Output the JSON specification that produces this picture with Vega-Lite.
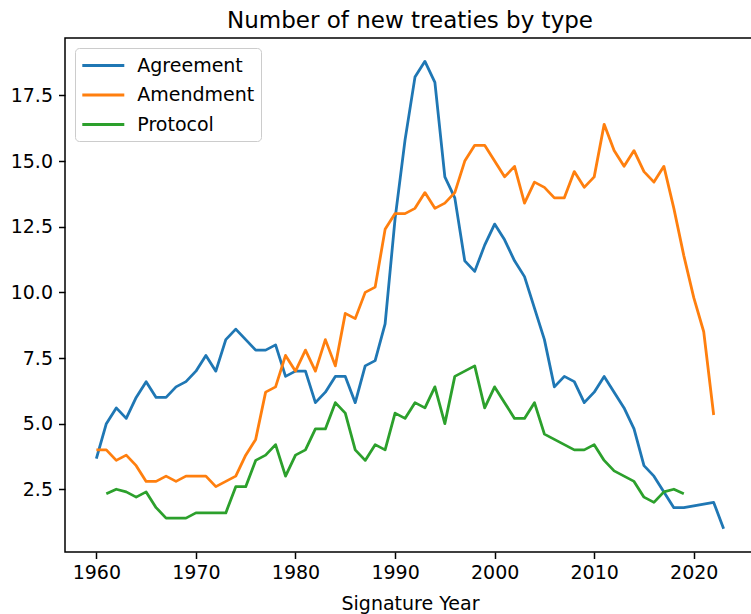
{
  "$schema": "https://vega.github.io/schema/vega-lite/v6.json",
  "autosize": {"type": "none"},
  "padding": {"left": 65, "top": 38, "right": -4, "bottom": 62},
  "width": 690,
  "height": 514,
  "background": "white",
  "title": {
    "text": "Number of new treaties by type",
    "font": "DejaVu Sans",
    "fontSize": 23,
    "fontWeight": "normal",
    "color": "black",
    "anchor": "middle",
    "baseline": "bottom",
    "offset": 6,
    "dy": 24
  },
  "config": {
    "view": {"stroke": "black", "strokeWidth": 1.5},
    "axis": {
      "labelFont": "DejaVu Sans",
      "labelFontSize": 19,
      "labelColor": "black",
      "titleFont": "DejaVu Sans",
      "titleFontSize": 19,
      "titleFontWeight": "normal",
      "titleColor": "black",
      "tickColor": "black",
      "tickWidth": 1.5,
      "tickSize": 6.5,
      "domain": false,
      "grid": false,
      "labelPadding": 5
    },
    "legend": {
      "labelFont": "DejaVu Sans",
      "labelFontSize": 19,
      "labelColor": "black"
    }
  },
  "data": {
    "values": [
      {"year": 1960, "type": "Agreement", "count": 3.67},
      {"year": 1961, "type": "Agreement", "count": 5.0},
      {"year": 1962, "type": "Agreement", "count": 5.6},
      {"year": 1963, "type": "Agreement", "count": 5.2},
      {"year": 1964, "type": "Agreement", "count": 6.0},
      {"year": 1965, "type": "Agreement", "count": 6.6},
      {"year": 1966, "type": "Agreement", "count": 6.0},
      {"year": 1967, "type": "Agreement", "count": 6.0},
      {"year": 1968, "type": "Agreement", "count": 6.4},
      {"year": 1969, "type": "Agreement", "count": 6.6},
      {"year": 1970, "type": "Agreement", "count": 7.0},
      {"year": 1971, "type": "Agreement", "count": 7.6},
      {"year": 1972, "type": "Agreement", "count": 7.0},
      {"year": 1973, "type": "Agreement", "count": 8.2},
      {"year": 1974, "type": "Agreement", "count": 8.6},
      {"year": 1975, "type": "Agreement", "count": 8.2},
      {"year": 1976, "type": "Agreement", "count": 7.8},
      {"year": 1977, "type": "Agreement", "count": 7.8},
      {"year": 1978, "type": "Agreement", "count": 8.0},
      {"year": 1979, "type": "Agreement", "count": 6.8},
      {"year": 1980, "type": "Agreement", "count": 7.0},
      {"year": 1981, "type": "Agreement", "count": 7.0},
      {"year": 1982, "type": "Agreement", "count": 5.8},
      {"year": 1983, "type": "Agreement", "count": 6.2},
      {"year": 1984, "type": "Agreement", "count": 6.8},
      {"year": 1985, "type": "Agreement", "count": 6.8},
      {"year": 1986, "type": "Agreement", "count": 5.8},
      {"year": 1987, "type": "Agreement", "count": 7.2},
      {"year": 1988, "type": "Agreement", "count": 7.4},
      {"year": 1989, "type": "Agreement", "count": 8.8},
      {"year": 1990, "type": "Agreement", "count": 12.8},
      {"year": 1991, "type": "Agreement", "count": 15.8},
      {"year": 1992, "type": "Agreement", "count": 18.2},
      {"year": 1993, "type": "Agreement", "count": 18.8},
      {"year": 1994, "type": "Agreement", "count": 18.0},
      {"year": 1995, "type": "Agreement", "count": 14.4},
      {"year": 1996, "type": "Agreement", "count": 13.6},
      {"year": 1997, "type": "Agreement", "count": 11.2},
      {"year": 1998, "type": "Agreement", "count": 10.8},
      {"year": 1999, "type": "Agreement", "count": 11.8},
      {"year": 2000, "type": "Agreement", "count": 12.6},
      {"year": 2001, "type": "Agreement", "count": 12.0},
      {"year": 2002, "type": "Agreement", "count": 11.2},
      {"year": 2003, "type": "Agreement", "count": 10.6},
      {"year": 2004, "type": "Agreement", "count": 9.4},
      {"year": 2005, "type": "Agreement", "count": 8.2},
      {"year": 2006, "type": "Agreement", "count": 6.4},
      {"year": 2007, "type": "Agreement", "count": 6.8},
      {"year": 2008, "type": "Agreement", "count": 6.6},
      {"year": 2009, "type": "Agreement", "count": 5.8},
      {"year": 2010, "type": "Agreement", "count": 6.2},
      {"year": 2011, "type": "Agreement", "count": 6.8},
      {"year": 2012, "type": "Agreement", "count": 6.2},
      {"year": 2013, "type": "Agreement", "count": 5.6},
      {"year": 2014, "type": "Agreement", "count": 4.8},
      {"year": 2015, "type": "Agreement", "count": 3.4},
      {"year": 2016, "type": "Agreement", "count": 3.0},
      {"year": 2017, "type": "Agreement", "count": 2.4},
      {"year": 2018, "type": "Agreement", "count": 1.8},
      {"year": 2019, "type": "Agreement", "count": 1.8},
      {"year": 2022, "type": "Agreement", "count": 2.0},
      {"year": 2023, "type": "Agreement", "count": 1.0},
      {"year": 1960, "type": "Amendment", "count": 4.0},
      {"year": 1961, "type": "Amendment", "count": 4.0},
      {"year": 1962, "type": "Amendment", "count": 3.6},
      {"year": 1963, "type": "Amendment", "count": 3.8},
      {"year": 1964, "type": "Amendment", "count": 3.4},
      {"year": 1965, "type": "Amendment", "count": 2.8},
      {"year": 1966, "type": "Amendment", "count": 2.8},
      {"year": 1967, "type": "Amendment", "count": 3.0},
      {"year": 1968, "type": "Amendment", "count": 2.8},
      {"year": 1969, "type": "Amendment", "count": 3.0},
      {"year": 1970, "type": "Amendment", "count": 3.0},
      {"year": 1971, "type": "Amendment", "count": 3.0},
      {"year": 1972, "type": "Amendment", "count": 2.6},
      {"year": 1973, "type": "Amendment", "count": 2.8},
      {"year": 1974, "type": "Amendment", "count": 3.0},
      {"year": 1975, "type": "Amendment", "count": 3.8},
      {"year": 1976, "type": "Amendment", "count": 4.4},
      {"year": 1977, "type": "Amendment", "count": 6.2},
      {"year": 1978, "type": "Amendment", "count": 6.4},
      {"year": 1979, "type": "Amendment", "count": 7.6},
      {"year": 1980, "type": "Amendment", "count": 7.0},
      {"year": 1981, "type": "Amendment", "count": 7.8},
      {"year": 1982, "type": "Amendment", "count": 7.0},
      {"year": 1983, "type": "Amendment", "count": 8.2},
      {"year": 1984, "type": "Amendment", "count": 7.2},
      {"year": 1985, "type": "Amendment", "count": 9.2},
      {"year": 1986, "type": "Amendment", "count": 9.0},
      {"year": 1987, "type": "Amendment", "count": 10.0},
      {"year": 1988, "type": "Amendment", "count": 10.2},
      {"year": 1989, "type": "Amendment", "count": 12.4},
      {"year": 1990, "type": "Amendment", "count": 13.0},
      {"year": 1991, "type": "Amendment", "count": 13.0},
      {"year": 1992, "type": "Amendment", "count": 13.2},
      {"year": 1993, "type": "Amendment", "count": 13.8},
      {"year": 1994, "type": "Amendment", "count": 13.2},
      {"year": 1995, "type": "Amendment", "count": 13.4},
      {"year": 1996, "type": "Amendment", "count": 13.8},
      {"year": 1997, "type": "Amendment", "count": 15.0},
      {"year": 1998, "type": "Amendment", "count": 15.6},
      {"year": 1999, "type": "Amendment", "count": 15.6},
      {"year": 2000, "type": "Amendment", "count": 15.0},
      {"year": 2001, "type": "Amendment", "count": 14.4},
      {"year": 2002, "type": "Amendment", "count": 14.8},
      {"year": 2003, "type": "Amendment", "count": 13.4},
      {"year": 2004, "type": "Amendment", "count": 14.2},
      {"year": 2005, "type": "Amendment", "count": 14.0},
      {"year": 2006, "type": "Amendment", "count": 13.6},
      {"year": 2007, "type": "Amendment", "count": 13.6},
      {"year": 2008, "type": "Amendment", "count": 14.6},
      {"year": 2009, "type": "Amendment", "count": 14.0},
      {"year": 2010, "type": "Amendment", "count": 14.4},
      {"year": 2011, "type": "Amendment", "count": 16.4},
      {"year": 2012, "type": "Amendment", "count": 15.4},
      {"year": 2013, "type": "Amendment", "count": 14.8},
      {"year": 2014, "type": "Amendment", "count": 15.4},
      {"year": 2015, "type": "Amendment", "count": 14.6},
      {"year": 2016, "type": "Amendment", "count": 14.2},
      {"year": 2017, "type": "Amendment", "count": 14.8},
      {"year": 2018, "type": "Amendment", "count": 13.2},
      {"year": 2019, "type": "Amendment", "count": 11.4},
      {"year": 2020, "type": "Amendment", "count": 9.8},
      {"year": 2021, "type": "Amendment", "count": 8.5},
      {"year": 2022, "type": "Amendment", "count": 5.33},
      {"year": 1961, "type": "Protocol", "count": 2.33},
      {"year": 1962, "type": "Protocol", "count": 2.5},
      {"year": 1963, "type": "Protocol", "count": 2.4},
      {"year": 1964, "type": "Protocol", "count": 2.2},
      {"year": 1965, "type": "Protocol", "count": 2.4},
      {"year": 1966, "type": "Protocol", "count": 1.8},
      {"year": 1967, "type": "Protocol", "count": 1.4},
      {"year": 1968, "type": "Protocol", "count": 1.4},
      {"year": 1969, "type": "Protocol", "count": 1.4},
      {"year": 1970, "type": "Protocol", "count": 1.6},
      {"year": 1971, "type": "Protocol", "count": 1.6},
      {"year": 1972, "type": "Protocol", "count": 1.6},
      {"year": 1973, "type": "Protocol", "count": 1.6},
      {"year": 1974, "type": "Protocol", "count": 2.6},
      {"year": 1975, "type": "Protocol", "count": 2.6},
      {"year": 1976, "type": "Protocol", "count": 3.6},
      {"year": 1977, "type": "Protocol", "count": 3.8},
      {"year": 1978, "type": "Protocol", "count": 4.2},
      {"year": 1979, "type": "Protocol", "count": 3.0},
      {"year": 1980, "type": "Protocol", "count": 3.8},
      {"year": 1981, "type": "Protocol", "count": 4.0},
      {"year": 1982, "type": "Protocol", "count": 4.8},
      {"year": 1983, "type": "Protocol", "count": 4.8},
      {"year": 1984, "type": "Protocol", "count": 5.8},
      {"year": 1985, "type": "Protocol", "count": 5.4},
      {"year": 1986, "type": "Protocol", "count": 4.0},
      {"year": 1987, "type": "Protocol", "count": 3.6},
      {"year": 1988, "type": "Protocol", "count": 4.2},
      {"year": 1989, "type": "Protocol", "count": 4.0},
      {"year": 1990, "type": "Protocol", "count": 5.4},
      {"year": 1991, "type": "Protocol", "count": 5.2},
      {"year": 1992, "type": "Protocol", "count": 5.8},
      {"year": 1993, "type": "Protocol", "count": 5.6},
      {"year": 1994, "type": "Protocol", "count": 6.4},
      {"year": 1995, "type": "Protocol", "count": 5.0},
      {"year": 1996, "type": "Protocol", "count": 6.8},
      {"year": 1997, "type": "Protocol", "count": 7.0},
      {"year": 1998, "type": "Protocol", "count": 7.2},
      {"year": 1999, "type": "Protocol", "count": 5.6},
      {"year": 2000, "type": "Protocol", "count": 6.4},
      {"year": 2001, "type": "Protocol", "count": 5.8},
      {"year": 2002, "type": "Protocol", "count": 5.2},
      {"year": 2003, "type": "Protocol", "count": 5.2},
      {"year": 2004, "type": "Protocol", "count": 5.8},
      {"year": 2005, "type": "Protocol", "count": 4.6},
      {"year": 2006, "type": "Protocol", "count": 4.4},
      {"year": 2007, "type": "Protocol", "count": 4.2},
      {"year": 2008, "type": "Protocol", "count": 4.0},
      {"year": 2009, "type": "Protocol", "count": 4.0},
      {"year": 2010, "type": "Protocol", "count": 4.2},
      {"year": 2011, "type": "Protocol", "count": 3.6},
      {"year": 2012, "type": "Protocol", "count": 3.2},
      {"year": 2013, "type": "Protocol", "count": 3.0},
      {"year": 2014, "type": "Protocol", "count": 2.8},
      {"year": 2015, "type": "Protocol", "count": 2.2},
      {"year": 2016, "type": "Protocol", "count": 2.0},
      {"year": 2017, "type": "Protocol", "count": 2.4},
      {"year": 2018, "type": "Protocol", "count": 2.5},
      {"year": 2019, "type": "Protocol", "count": 2.33}
    ]
  },
  "mark": {"type": "line", "strokeWidth": 2.8, "strokeJoin": "round", "clip": true},
  "encoding": {
    "x": {
      "field": "year",
      "type": "quantitative",
      "scale": {"domain": [1956.85, 2026.15], "nice": false, "zero": false},
      "axis": {"values": [1960, 1970, 1980, 1990, 2000, 2010, 2020], "format": "d", "title": "Signature Year", "titlePadding": 12}
    },
    "y": {
      "field": "count",
      "type": "quantitative",
      "scale": {"domain": [0.11, 19.69], "nice": false, "zero": false},
      "axis": {"values": [2.5, 5, 7.5, 10, 12.5, 15, 17.5], "format": ".1f", "title": null, "labelPadding": 6}
    },
    "color": {
      "field": "type",
      "type": "nominal",
      "scale": {"domain": ["Agreement", "Amendment", "Protocol"], "range": ["#1f77b4", "#ff7f0e", "#2ca02c"]},
      "legend": {
        "title": null,
        "orient": "top-left",
        "offset": 10,
        "fillColor": "white",
        "strokeColor": "#cccccc",
        "cornerRadius": 4,
        "padding": 6,
        "symbolType": "M-2.1,0H2.1",
        "symbolSize": 400,
        "symbolStrokeWidth": 2.8,
        "symbolOffset": 10.8,
        "labelOffset": 22.5,
        "rowPadding": 7.5
      }
    }
  }
}
